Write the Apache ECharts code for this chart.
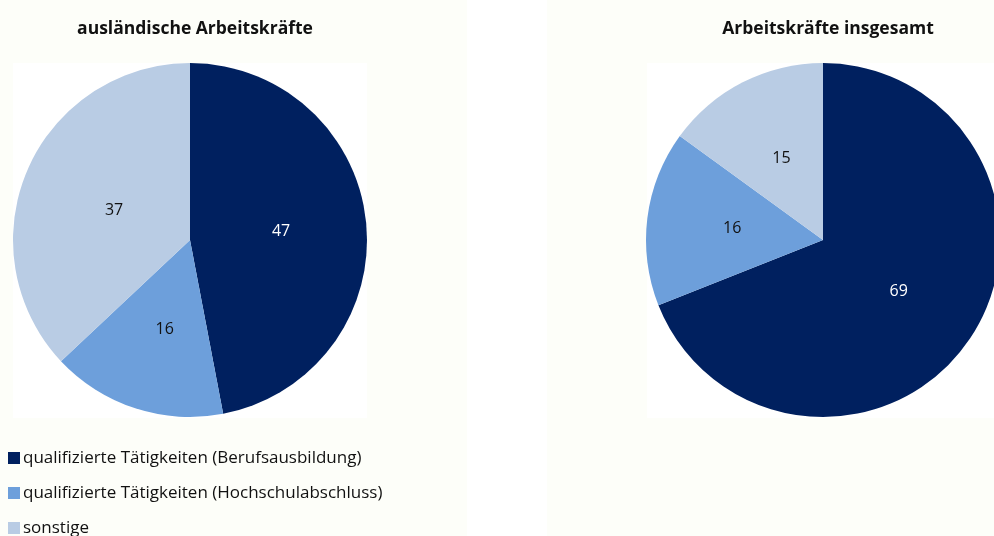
<!DOCTYPE html>
<html>
<head>
<meta charset="utf-8">
<script src="https://cdn.jsdelivr.net/npm/echarts@6/dist/echarts.min.js"></script>
<style>
  html, body { margin: 0; padding: 0; background: #fff; }
  #chart { width: 994px; height: 536px; }
</style>
</head>
<body>
<div id="chart"></div>
<script>
const categories = [
  "qualifizierte Tätigkeiten (Berufsausbildung)",
  "qualifizierte Tätigkeiten (Hochschulabschluss)",
  "sonstige",
];
const titles = ["ausländische Arbeitskräfte", "Arbeitskräfte insgesamt"];
const foreignValues = [47, 16, 37];
const totalValues = [69, 16, 15];

const colors = ["#00205f", "#6d9fdb", "#b9cce4"];
const labelColors = ["#fff", "#111", "#111"];

const toData = (values, offsets) =>
  values.map((v, i) => ({
    name: categories[i],
    value: v,
    itemStyle: { color: colors[i] },
    label: { color: labelColors[i], offset: (offsets && offsets[i]) || [0, 0] },
  }));

const font = '"Open Sans", "Noto Sans", sans-serif';

const pieBase = {
  type: "pie",
  radius: 177,
  startAngle: 90,
  clockwise: true,
  animation: false,
  silent: true,
  label: {
    show: true,
    position: "inside",
    formatter: "{c}",
    fontFamily: font,
    fontSize: 16,
  },
  labelLine: { show: false },
  itemStyle: { borderWidth: 0 },
};

const titleStyle = { fontFamily: font, fontSize: 17.5, fontWeight: "bold", color: "#111" };

const option = {
  backgroundColor: "#fff",
  graphic: [
    // off-white chart panels with white plot areas
    { type: "rect", z: -10, shape: { x: 0, y: 0, width: 467, height: 536 }, style: { fill: "#fdfef9" } },
    { type: "rect", z: -10, shape: { x: 547, y: 0, width: 447, height: 536 }, style: { fill: "#fdfef9" } },
    { type: "rect", z: -9, shape: { x: 13, y: 63, width: 354, height: 355 }, style: { fill: "#fff" } },
    { type: "rect", z: -9, shape: { x: 647, y: 63, width: 347, height: 355 }, style: { fill: "#fff" } },
  ],
  title: [
    { text: titles[0], left: 190, top: 15, textAlign: "center", textStyle: titleStyle },
    { text: titles[1], left: 823, top: 15, textAlign: "center", textStyle: titleStyle },
  ],
  legend: {
    orient: "vertical",
    left: 8,
    top: 448,
    height: 100,
    padding: 0,
    icon: "rect",
    itemWidth: 12,
    itemHeight: 12,
    itemGap: 15,
    data: categories,
    textStyle: { fontFamily: font, fontSize: 17, lineHeight: 20, color: "#111", padding: [0, 0, 0, -2] },
  },
  series: [
    {
      ...pieBase,
      name: titles[0],
      center: [190, 240],
      data: toData(foreignValues, [null, [3, 2], [8, 7]]),
    },
    { ...pieBase, name: titles[1], center: [823, 240], data: toData(totalValues) },
  ],
};

const myChart = echarts.init(document.getElementById("chart"));
myChart.setOption(option);
</script>
</body>
</html>
